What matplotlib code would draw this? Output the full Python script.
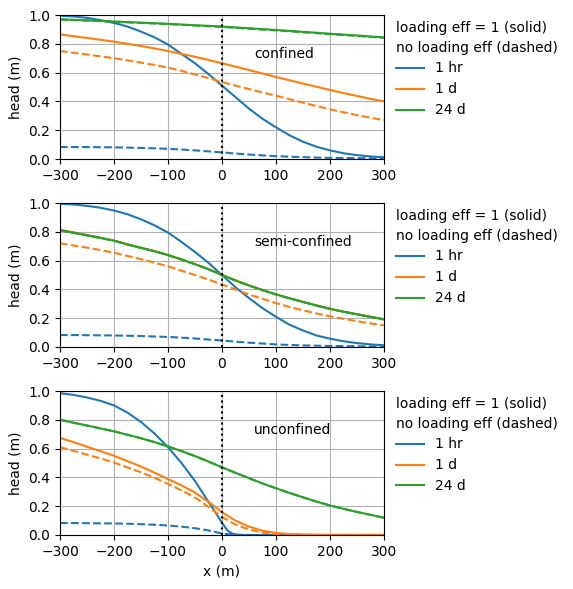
"""Head profiles for confined / semi-confined / unconfined aquifers."""

import numpy as np
import matplotlib
matplotlib.use("Agg")
import matplotlib.pyplot as plt

# common x grid (m)
x = np.arange(-300, 301, 25)

# ---- confined ----
conf_1hr = [0.995, 0.99, 0.98, 0.965, 0.945, 0.92, 0.885, 0.845, 0.795, 0.73, 0.665, 0.59, 0.51,
            0.43, 0.35, 0.28, 0.22, 0.165, 0.12, 0.085, 0.06, 0.04, 0.027, 0.018, 0.012]
conf_1hr_ne = [0.083, 0.083, 0.083, 0.082, 0.081, 0.079, 0.077, 0.074, 0.071, 0.066, 0.060, 0.053, 0.046,
               0.038, 0.031, 0.025, 0.020, 0.016, 0.013, 0.010, 0.008, 0.007, 0.006, 0.005, 0.004]
conf_1d = [0.865, 0.853, 0.841, 0.828, 0.815, 0.800, 0.785, 0.768, 0.750, 0.730, 0.710, 0.688, 0.665,
           0.642, 0.618, 0.594, 0.570, 0.547, 0.524, 0.502, 0.480, 0.458, 0.438, 0.418, 0.400]
conf_1d_ne = [0.750, 0.738, 0.726, 0.713, 0.700, 0.685, 0.670, 0.653, 0.635, 0.612, 0.588, 0.562, 0.535,
              0.510, 0.486, 0.462, 0.440, 0.415, 0.392, 0.368, 0.345, 0.325, 0.305, 0.287, 0.270]
conf_24d = [0.970, 0.967, 0.963, 0.959, 0.955, 0.951, 0.947, 0.943, 0.939, 0.934, 0.929, 0.925, 0.920,
            0.914, 0.908, 0.902, 0.896, 0.890, 0.883, 0.877, 0.870, 0.864, 0.858, 0.851, 0.845]
conf_24d_ne = [0.968, 0.965, 0.961, 0.957, 0.953, 0.949, 0.945, 0.941, 0.937, 0.932, 0.927, 0.922, 0.917,
               0.911, 0.905, 0.899, 0.893, 0.887, 0.880, 0.874, 0.867, 0.861, 0.855, 0.848, 0.842]

# ---- semi-confined ----
semi_1hr = [0.995, 0.99, 0.98, 0.967, 0.948, 0.922, 0.887, 0.845, 0.795, 0.73, 0.66, 0.585, 0.50,
            0.415, 0.34, 0.27, 0.21, 0.155, 0.115, 0.08, 0.058, 0.04, 0.027, 0.018, 0.012]
semi_1hr_ne = [0.083, 0.083, 0.082, 0.081, 0.080, 0.078, 0.076, 0.073, 0.070, 0.065, 0.059, 0.052, 0.045,
               0.037, 0.030, 0.024, 0.018, 0.014, 0.011, 0.009, 0.007, 0.006, 0.005, 0.004, 0.004]
semi_1d = [0.815, 0.797, 0.778, 0.759, 0.740, 0.714, 0.690, 0.666, 0.639, 0.609, 0.576, 0.541, 0.501,
           0.463, 0.428, 0.396, 0.366, 0.339, 0.314, 0.289, 0.266, 0.246, 0.228, 0.210, 0.193]
semi_1d_ne = [0.720, 0.705, 0.690, 0.673, 0.655, 0.632, 0.610, 0.586, 0.560, 0.530, 0.500, 0.468, 0.435,
              0.400, 0.365, 0.335, 0.305, 0.278, 0.255, 0.233, 0.213, 0.196, 0.179, 0.164, 0.150]
semi_24d = [0.810, 0.793, 0.775, 0.757, 0.738, 0.712, 0.688, 0.665, 0.638, 0.608, 0.575, 0.540, 0.500,
            0.462, 0.427, 0.395, 0.365, 0.338, 0.313, 0.288, 0.265, 0.245, 0.227, 0.209, 0.192]
semi_24d_ne = [0.810, 0.793, 0.775, 0.757, 0.738, 0.712, 0.688, 0.665, 0.638, 0.608, 0.575, 0.540, 0.500,
               0.462, 0.427, 0.395, 0.365, 0.338, 0.313, 0.288, 0.265, 0.245, 0.227, 0.209, 0.192]

# ---- unconfined ----
x_unc_1hr = [-300, -275, -250, -225, -200, -175, -150, -125, -100, -75, -50, -25, -10, 0, 10, 20, 30, 50, 300]
unc_1hr = [0.985, 0.973, 0.955, 0.932, 0.900, 0.850, 0.785, 0.705, 0.610, 0.500, 0.375, 0.230, 0.145,
           0.085, 0.032, 0.008, 0.001, 0.0, 0.0]
unc_1hr_ne = [0.083, 0.083, 0.082, 0.081, 0.080, 0.078, 0.075, 0.071, 0.066, 0.058, 0.047, 0.032, 0.010,
              0.001, 0.0, 0.0, 0.0, 0.0, 0.0, 0.0, 0.0, 0.0, 0.0, 0.0, 0.0]
unc_1d = [0.675, 0.645, 0.613, 0.582, 0.550, 0.513, 0.475, 0.433, 0.388, 0.345, 0.295, 0.230, 0.158,
          0.100, 0.058, 0.030, 0.014, 0.006, 0.003, 0.001, 0.0, 0.0, 0.0, 0.0, 0.0]
unc_1d_ne = [0.610, 0.585, 0.558, 0.532, 0.503, 0.470, 0.435, 0.397, 0.355, 0.310, 0.260, 0.195, 0.125,
             0.072, 0.038, 0.017, 0.007, 0.003, 0.001, 0.0, 0.0, 0.0, 0.0, 0.0, 0.0]
unc_24d = [0.800, 0.780, 0.760, 0.740, 0.720, 0.696, 0.672, 0.645, 0.615, 0.583, 0.548, 0.510, 0.470,
           0.432, 0.395, 0.358, 0.325, 0.292, 0.262, 0.232, 0.205, 0.182, 0.160, 0.140, 0.120]
unc_24d_ne = unc_24d

panels = [
    ("confined", x, conf_1hr, conf_1hr_ne, conf_1d, conf_1d_ne, conf_24d, conf_24d_ne),
    ("semi-confined", x, semi_1hr, semi_1hr_ne, semi_1d, semi_1d_ne, semi_24d, semi_24d_ne),
    ("unconfined", x_unc_1hr, unc_1hr, unc_1hr_ne, unc_1d, unc_1d_ne, unc_24d, unc_24d_ne),
]

fig, axes = plt.subplots(3, 1, figsize=(5.73, 5.89), dpi=100)
fig.subplots_adjust(left=0.1047, right=0.670, top=0.9745, bottom=0.0917, hspace=0.3056)

for ax, (name, x1, h1, h1n, h2, h2n, h3, h3n) in zip(axes, panels):
    ax.plot(x1, h1, "C0", label="1 hr")
    ax.plot(x, h1n, "C0--")
    ax.plot(x, h2, "C1", label="1 d")
    ax.plot(x, h2n, "C1--")
    ax.plot(x, h3, "C2", label="24 d")
    ax.plot(x, h3n, "C2--")
    ax.axvline(0, color="k", linestyle=":")
    ax.text(60, 0.7, name)
    ax.set_xlim(-300, 300)
    ax.set_ylim(0, 1)
    ax.set_xticks(np.arange(-300, 301, 100))
    ax.set_ylabel("head (m)")
    ax.grid(True)
    leg = ax.legend(title="loading eff = 1 (solid)\nno loading eff (dashed)",
                    loc="upper left", bbox_to_anchor=(1, 1.045), frameon=False,
                    alignment="left")
    leg.get_title().set_linespacing(1.5)

axes[-1].set_xlabel("x (m)")

plt.savefig("out.png", dpi=100)
